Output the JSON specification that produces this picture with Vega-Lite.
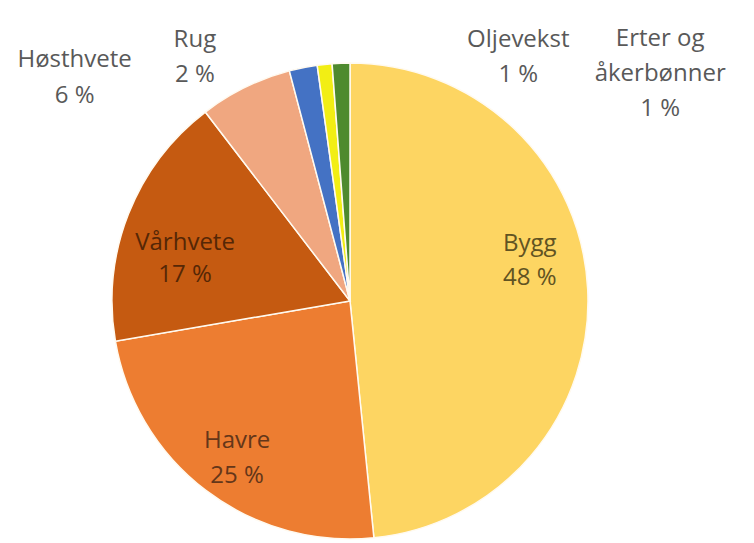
{
  "$schema": "https://vega.github.io/schema/vega-lite/v6.json",
  "width": 700,
  "height": 482,
  "autosize": {"type": "none"},
  "padding": {"left": 0, "top": 60, "right": 54, "bottom": 1},
  "background": "#ffffff",
  "config": {"view": {"stroke": null}},
  "data": {
    "values": [
      {"crop": "Bygg", "share": 48.4, "rank": 1, "label": "Bygg\n48 %"},
      {"crop": "Havre", "share": 23.9, "rank": 2, "label": "Havre\n25 %"},
      {"crop": "Vårhvete", "share": 17.3, "rank": 3, "label": "Vårhvete\n17 %"},
      {"crop": "Høsthvete", "share": 6.3, "rank": 4, "label": "Høsthvete\n6 %"},
      {"crop": "Rug", "share": 1.9, "rank": 5, "label": "Rug\n2 %"},
      {"crop": "Oljevekst", "share": 1.0, "rank": 6, "label": "Oljevekst\n1 %"},
      {"crop": "Erter og åkerbønner", "share": 1.2, "rank": 7, "label": "Erter og\nåkerbønner\n1 %"}
    ]
  },
  "encoding": {
    "theta": {"field": "share", "type": "quantitative", "stack": true},
    "order": {"field": "rank", "type": "quantitative", "sort": "ascending"}
  },
  "layer": [
    {
      "mark": {"type": "arc", "outerRadius": 238, "stroke": "#fffaf0", "strokeWidth": 1.5},
      "encoding": {
        "color": {
          "field": "crop",
          "type": "nominal",
          "scale": {
            "domain": ["Bygg", "Havre", "Vårhvete", "Høsthvete", "Rug", "Oljevekst", "Erter og åkerbønner"],
            "range": ["#FDD562", "#ED7D31", "#C55A11", "#F0A780", "#4472C4", "#F2EE14", "#4E8A2E"]
          },
          "legend": null
        }
      }
    },
    {
      "mark": {"type": "text", "radius": 160, "dx": 20, "dy": -49, "font": "Open Sans", "fontSize": 24, "lineHeight": 34, "lineBreak": "\n", "color": "#615322", "baseline": "middle", "align": "center"},
      "encoding": {"text": {"condition": {"test": "datum.crop === 'Bygg'", "field": "label"}, "value": ""}}
    },
    {
      "mark": {"type": "text", "radius": 160, "dx": -16, "dy": 13, "font": "Open Sans", "fontSize": 24, "lineHeight": 35, "lineBreak": "\n", "color": "#643619", "baseline": "middle", "align": "center"},
      "encoding": {"text": {"condition": {"test": "datum.crop === 'Havre'", "field": "label"}, "value": ""}}
    },
    {
      "mark": {"type": "text", "radius": 160, "dx": -16, "dy": 0, "font": "Open Sans", "fontSize": 24, "lineHeight": 32, "lineBreak": "\n", "color": "#552706", "baseline": "middle", "align": "center"},
      "encoding": {"text": {"condition": {"test": "datum.crop === 'Vårhvete'", "field": "label"}, "value": ""}}
    },
    {
      "mark": {"type": "text", "radius": 260, "dx": -161, "dy": -8, "font": "Open Sans", "fontSize": 24, "lineHeight": 36, "lineBreak": "\n", "color": "#595959", "baseline": "middle", "align": "center"},
      "encoding": {"text": {"condition": {"test": "datum.crop === 'Høsthvete'", "field": "label"}, "value": ""}}
    },
    {
      "mark": {"type": "text", "radius": 260, "dx": -104, "dy": -6, "font": "Open Sans", "fontSize": 24, "lineHeight": 35, "lineBreak": "\n", "color": "#595959", "baseline": "middle", "align": "center"},
      "encoding": {"text": {"condition": {"test": "datum.crop === 'Rug'", "field": "label"}, "value": ""}}
    },
    {
      "mark": {"type": "text", "radius": 260, "dx": 196, "dy": -2, "font": "Open Sans", "fontSize": 24, "lineHeight": 35, "lineBreak": "\n", "color": "#595959", "baseline": "middle", "align": "center"},
      "encoding": {"text": {"condition": {"test": "datum.crop === 'Oljevekst'", "field": "label"}, "value": ""}}
    },
    {
      "mark": {"type": "text", "radius": 260, "dx": 320, "dy": -2, "font": "Open Sans", "fontSize": 24, "lineHeight": 35, "lineBreak": "\n", "color": "#595959", "baseline": "middle", "align": "center"},
      "encoding": {"text": {"condition": {"test": "datum.crop === 'Erter og åkerbønner'", "field": "label"}, "value": ""}}
    }
  ]
}
